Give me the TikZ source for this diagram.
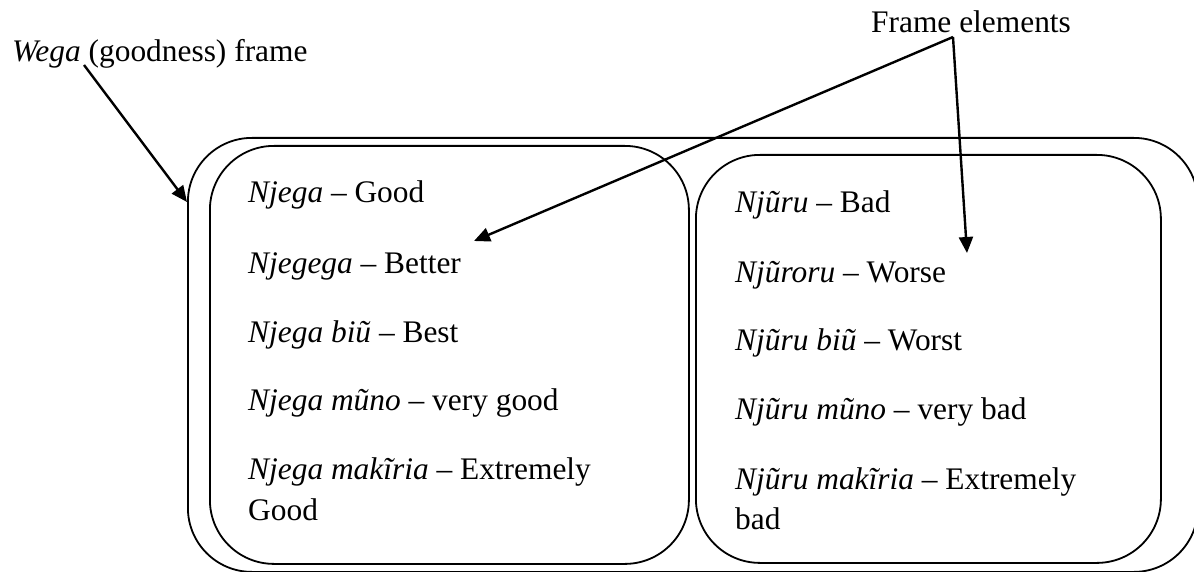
\documentclass[tikz,border=0pt]{standalone}
\usepackage{fontspec}
\setmainfont{Liberation Serif}
\usetikzlibrary{arrows.meta}
\begin{document}
\begin{tikzpicture}[x=1pt,y=-1pt,
  frame/.style={draw, line width=1.8pt, rounded corners=64pt, inner sep=0pt, anchor=north west},
  lbl/.style={anchor=base west, inner sep=0pt, font=\fontsize{31.4}{41}\selectfont},
  pointer/.style={line width=2.4pt, -{Triangle[length=16pt,width=14pt]}}]
\useasboundingbox (0,0) rectangle (1194,572);

% frame and its two element groups
\node[frame, minimum width=1010pt, minimum height=434pt] (outer) at (187,137) {};
\node[frame, minimum width=479pt, minimum height=418pt] (good) at (209,145) {};
\node[frame, minimum width=465pt, minimum height=408pt] (bad) at (695,154) {};

% labels
\node[lbl] (wega) at (12,62) {\textit{Wega} (goodness) frame};
\node[lbl] (fe) at (871,33) {Frame elements};

% goodness terms
\node[lbl] (g1) at (248,203) {\textit{Njega} \textendash{} Good};
\node[lbl] (g2) at (248,273) {\textit{Njegega} \textendash{} Better};
\node[lbl] (g3) at (248,342) {\textit{Njega biũ} \textendash{} Best};
\node[lbl] (g4) at (248,410) {\textit{Njega mũno} \textendash{} very good};
\node[lbl] (g5) at (248,479) {\textit{Njega makĩria} \textendash{} Extremely};
\node[lbl] (g5b) at (248,520) {Good};

% badness terms
\node[lbl] (b1) at (735,213) {\textit{Njũru} \textendash{} Bad};
\node[lbl] (b2) at (735,282) {\textit{Njũroru} \textendash{} Worse};
\node[lbl] (b3) at (735,350) {\textit{Njũru biũ} \textendash{} Worst};
\node[lbl] (b4) at (735,419) {\textit{Njũru mũno} \textendash{} very bad};
\node[lbl] (b5) at (735,489) {\textit{Njũru makĩria} \textendash{} Extremely};
\node[lbl] (b5b) at (735,529) {bad};

% pointer ends
\coordinate (wfrom) at (84,65);
\coordinate (wtip) at (187,202);
\coordinate (apex) at (953,37);
\coordinate (gtip) at (474,241);
\coordinate (btip) at (967,253);

\draw[pointer] (wfrom) -- (wtip);
\draw[pointer] (apex) -- (gtip);
\draw[pointer] (apex) -- (btip);
\end{tikzpicture}
\end{document}
